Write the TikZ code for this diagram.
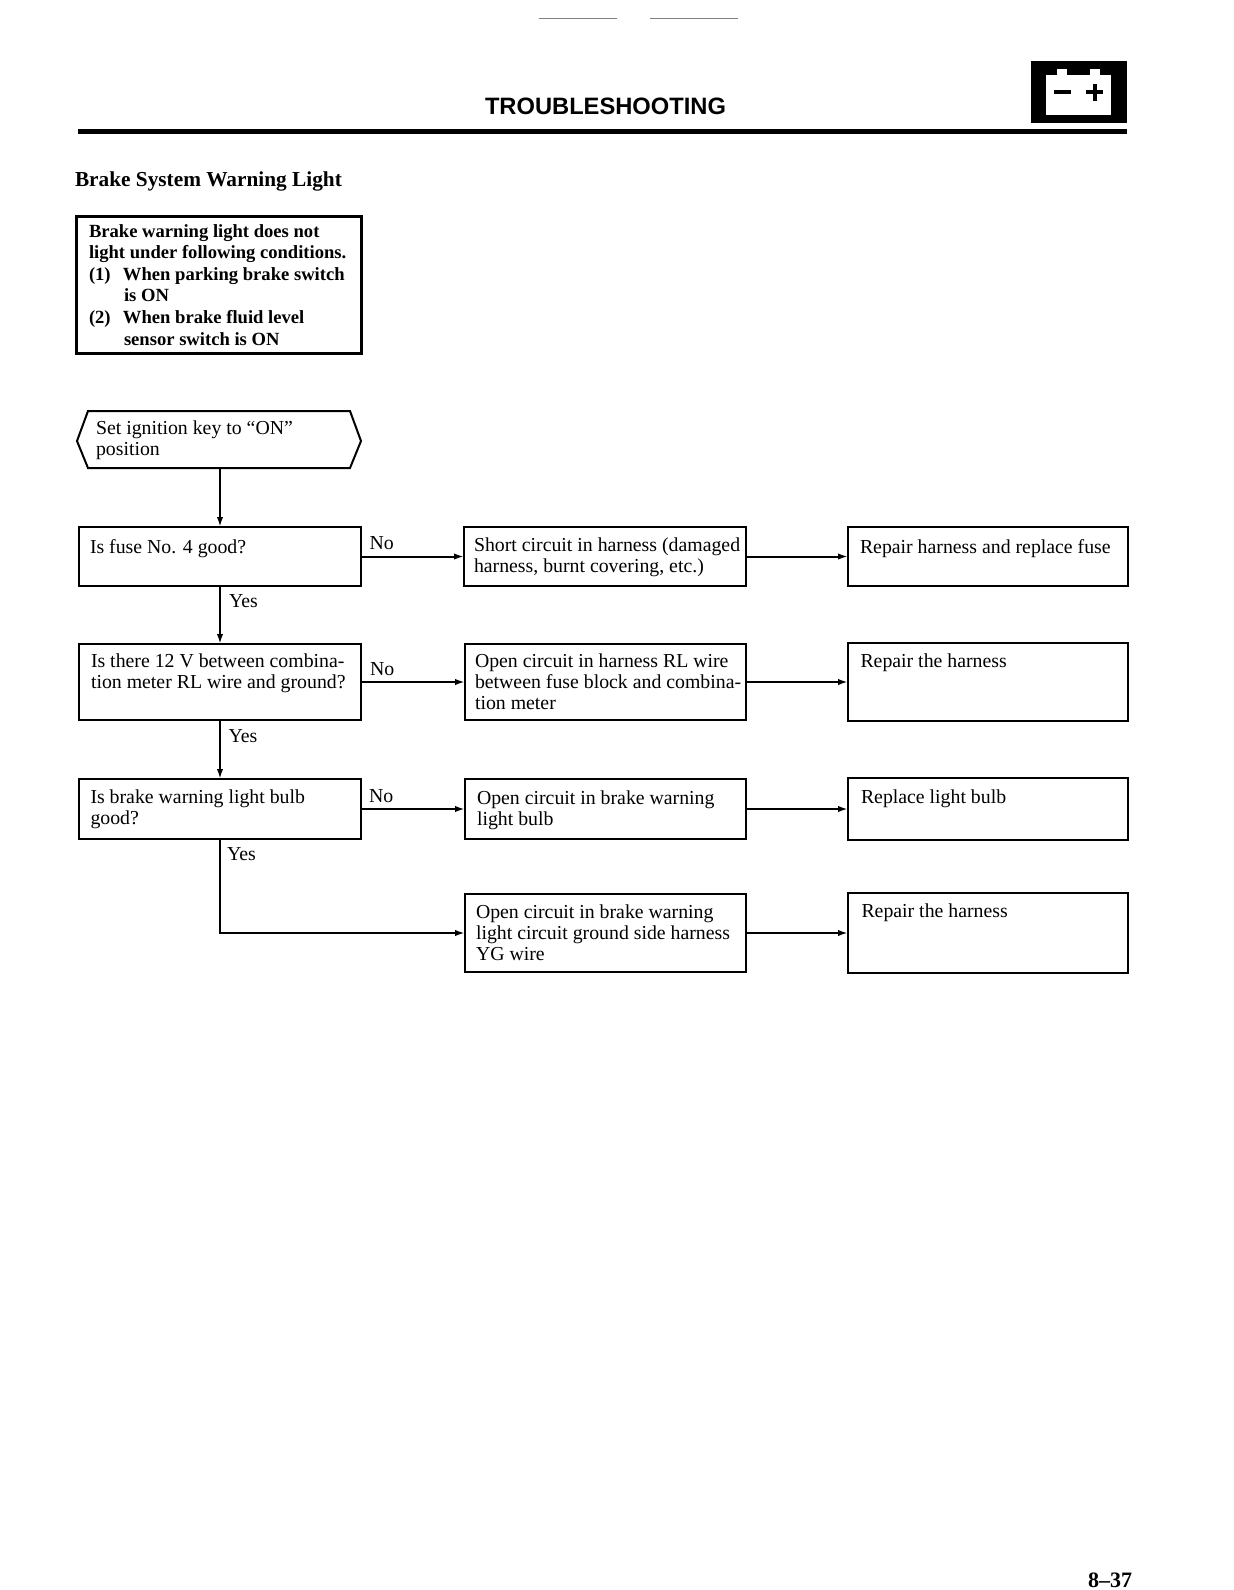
\documentclass[tikz,border=0pt]{standalone}
\usepackage{fontspec}
\setmainfont{Liberation Serif}
\newfontfamily\headfont{Liberation Sans}
\usetikzlibrary{arrows.meta, positioning}
\tikzset{
    flowBox/.style={draw, rectangle, anchor=north west, inner sep=0pt, outer sep=0pt, line width=1pt},
    repairBox/.style={flowBox, line width=1.4pt},
    boxText/.style={anchor=base west, inner sep=0pt, align=left, font=\fontsize{9.9}{10.4}\selectfont},
    noteText/.style={anchor=base west, inner sep=0pt, align=left, font=\fontsize{9.3}{10.8}\selectfont\bfseries},
}
\begin{document}
\begin{tikzpicture}[x=0.5pt, y=-0.5pt, >={Latex[length=5pt,width=3.2pt]}, line width=1pt]
    \useasboundingbox (0,0) rectangle (1234,1590);

    % page head
    \draw[gray, line width=0.4pt] (539,18) -- (617,18);
    \draw[gray, line width=0.4pt] (650,18) -- (738,18);
    \node (Title) [inner sep=0pt, anchor=base west, font=\headfont\bfseries\fontsize{11.85}{14}\selectfont] at (484,114.5) {TROUBLESHOOTING};
    \fill (78,128.5) rectangle (1127,134);
    \fill (1031,61) rectangle (1127,123);
    \fill[white] (1046,75) rectangle (1111,115);
    \fill[white] (1057,69) rectangle (1067,76);
    \fill[white] (1090,69) rectangle (1100,76);
    \fill (1054,90) rectangle (1071,94);
    \fill (1086,90) rectangle (1103,94);
    \fill (1092.5,84) rectangle (1096.5,101);
    \node (Heading) [inner sep=0pt, anchor=base west, font=\fontsize{10.65}{14}\selectfont\bfseries] at (74,186) {Brake System Warning Light};

    % note
    \node (NoteBox) [flowBox, line width=1.5pt, minimum width=142.5pt, minimum height=68.5pt] at (76,216) {};
    \node (NoteText) [noteText] at (88,345) {Brake warning light does not\\light under following conditions.\\\makebox[17pt][l]{(1)}When parking brake switch\\\hspace*{17.5pt}is ON\\\makebox[17pt][l]{(2)}When brake fluid level\\\hspace*{17.5pt}sensor switch is ON};

    % start
    \draw[line width=1pt] (88,411) -- (350,411) -- (361,441) -- (350,468) -- (88,468) -- (77,441) -- cycle;
    \coordinate (StartOut) at (220,468);
    \node (StartText) [boxText] at (95,455) {Set ignition key to ``ON''\\position};

    % questions
    \node (FuseBox) [flowBox, minimum width=141pt, minimum height=29.5pt] at (79,527) {};
    \node (FuseText) [boxText] at (89,553) {Is fuse No. 4 good?};
    \node (MeterBox) [flowBox, minimum width=141pt, minimum height=38pt] at (79,644) {};
    \node (MeterText) [boxText] at (90,688) {Is there 12 V between combina-\\tion meter RL wire and ground?};
    \node (BulbBox) [flowBox, minimum width=141pt, minimum height=30pt] at (79,779) {};
    \node (BulbText) [boxText] at (89.5,824) {Is brake warning light bulb\\good?};

    % causes
    \node (ShortBox) [flowBox, minimum width=141pt, minimum height=29.5pt] at (464,527) {};
    \node (ShortText) [boxText] at (473,572) {Short circuit in harness (damaged\\harness, burnt covering, etc.)};
    \node (OpenRLBox) [flowBox, minimum width=140.5pt, minimum height=38pt] at (465,644) {};
    \node (OpenRLText) [boxText] at (474,709) {Open circuit in harness RL wire\\between fuse block and combina-\\tion meter};
    \node (OpenBulbBox) [flowBox, minimum width=140.5pt, minimum height=30pt] at (465,779) {};
    \node (OpenBulbText) [boxText] at (476,825) {Open circuit in brake warning\\light bulb};
    \node (OpenYGBox) [flowBox, minimum width=140.5pt, minimum height=39pt] at (465,894) {};
    \node (OpenYGText) [boxText] at (475,960) {Open circuit in brake warning\\light circuit ground side harness\\YG wire};

    % repairs
    \node (ReplaceFuseBox) [repairBox, minimum width=140pt, minimum height=29.5pt] at (848,527) {};
    \node (ReplaceFuseText) [boxText] at (859,553) {Repair harness and replace fuse};
    \node (RepairOneBox) [repairBox, minimum width=140pt, minimum height=39pt] at (848,643) {};
    \node (RepairOneText) [boxText] at (859.5,667) {Repair the harness};
    \node (ReplaceBulbBox) [repairBox, minimum width=140pt, minimum height=31pt] at (848,778) {};
    \node (ReplaceBulbText) [boxText] at (860,803) {Replace light bulb};
    \node (RepairTwoBox) [repairBox, minimum width=140pt, minimum height=40pt] at (848,893) {};
    \node (RepairTwoText) [boxText] at (860.5,917) {Repair the harness};

    % connectors
    \draw[->] (StartOut) -- (FuseBox.north);
    \draw[->] (FuseBox.south) -- (MeterBox.north);
    \draw[->] (MeterBox.south) -- (BulbBox.north);
    \draw[->] (BulbBox.south) |- (OpenYGBox.west);
    \draw[->] (FuseBox.east) -- (ShortBox.west);
    \draw[->] (MeterBox.east) -- (OpenRLBox.west);
    \draw[->] (BulbBox.east) -- (OpenBulbBox.west);
    \draw[->] (ShortBox.east) -- (ReplaceFuseBox.west);
    \draw[->] (OpenRLBox.east) -- (RepairOneBox.west);
    \draw[->] (OpenBulbBox.east) -- (ReplaceBulbBox.west);
    \draw[->] (OpenYGBox.east) -- (RepairTwoBox.west);

    % answers
    \node (NoFuse) [boxText] at (368.5,549) {No};
    \node (NoMeter) [boxText] at (369,675) {No};
    \node (NoBulb) [boxText] at (368,802) {No};
    \node (YesFuse) [boxText] at (228,607) {Yes};
    \node (YesMeter) [boxText] at (227.5,742) {Yes};
    \node (YesBulb) [boxText] at (226,860) {Yes};

    \node (PageNumber) [inner sep=0pt, anchor=base east, font=\fontsize{11}{12}\selectfont\bfseries] at (1133,1587) {8--37};
\end{tikzpicture}
\end{document}
